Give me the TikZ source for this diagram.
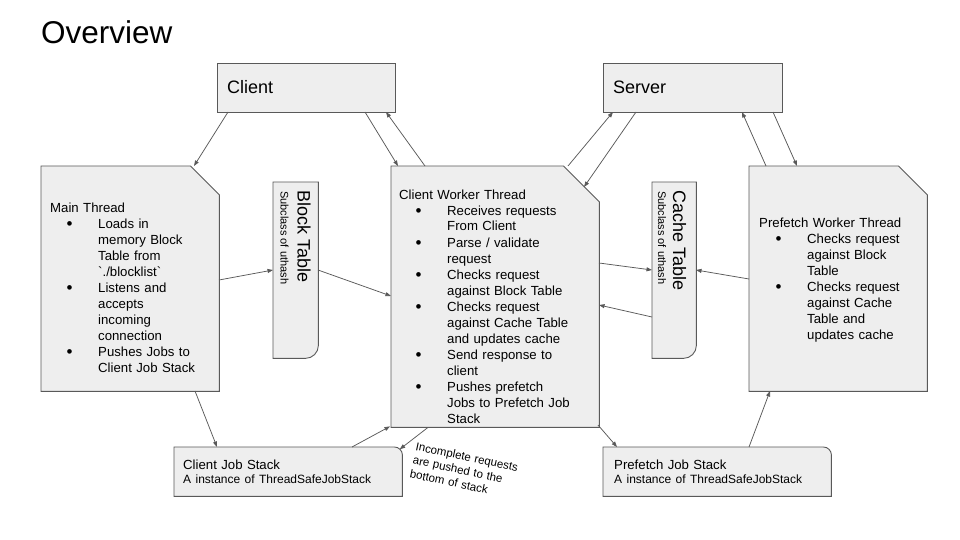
\documentclass[tikz,border=0pt]{standalone}
\usepackage{fontspec}
\setmainfont{Liberation Sans}[Ligatures=TeXOff]
\usetikzlibrary{calc,arrows.meta}
\definecolor{edgegray}{HTML}{595959}
\definecolor{boxfill}{HTML}{EEEEEE}
\newcommand\bdot{\makebox[48pt][l]{\hspace*{16.5pt}\raisebox{-1.6pt}{\fontsize{17}{16}\selectfont\textbullet}}}
\newcommand\bind{\hspace*{48pt}}
\begin{document}
\begin{tikzpicture}[x=1pt,y=1pt,
  frame/.style={rectangle,inner sep=0pt,anchor=north west,draw=none},
  shp/.style={draw=edgegray,fill=boxfill,line width=0.9pt,line join=miter},
  arr/.style={draw=edgegray,line width=0.75pt,-{Triangle[length=5.5pt,width=4pt]}},
  lbl/.style={anchor=base west,inner sep=0pt},
  body/.style={lbl,font=\fontsize{13.2}{16}\selectfont,align=left,text width=200pt},
  stacktext/.style={lbl,font=\fontsize{13.2}{14}\selectfont,align=left,text width=220pt}]
\useasboundingbox (0,0) rectangle (960,-540);

% frames
\node[frame,minimum width=178pt,minimum height=49pt] (client) at (217,-63) {};
\node[frame,minimum width=179pt,minimum height=49pt] (server) at (603,-63) {};
\node[frame,minimum width=178pt,minimum height=225pt] (mt) at (41,-166) {};
\node[frame,minimum width=45pt,minimum height=176pt] (bt) at (273,-182) {};
\node[frame,minimum width=208pt,minimum height=261pt] (cw) at (391,-166) {};
\node[frame,minimum width=44pt,minimum height=176pt] (ct) at (652,-182) {};
\node[frame,minimum width=178pt,minimum height=225pt] (pw) at (749,-166) {};
\node[frame,minimum width=228pt,minimum height=49pt] (cjs) at (174,-447) {};
\node[frame,minimum width=228pt,minimum height=49pt] (pjs) at (603,-447) {};

% shapes
\draw[shp] (client.north west) rectangle (client.south east);
\draw[shp] (server.north west) rectangle (server.south east);
\draw[shp] (mt.south west) -- (mt.north west) -- ($(mt.north east)+(-29,0)$) -- ($(mt.north east)+(0,-29)$) -- (mt.south east) -- cycle;
\draw[shp] (cw.south west) -- (cw.north west) -- ($(cw.north east)+(-36,0)$) -- ($(cw.north east)+(0,-36)$) -- (cw.south east) -- cycle;
\draw[shp] (pw.south west) -- (pw.north west) -- ($(pw.north east)+(-29,0)$) -- ($(pw.north east)+(0,-29)$) -- (pw.south east) -- cycle;
\draw[shp] (bt.north west) -- (bt.north east) -- ($(bt.south east)+(0,13)$) arc[start angle=0,end angle=-90,radius=13pt] -- (bt.south west) -- cycle;
\draw[shp] (ct.north west) -- (ct.north east) -- ($(ct.south east)+(0,13)$) arc[start angle=0,end angle=-90,radius=13pt] -- (ct.south west) -- cycle;
\draw[shp] (cjs.south west) -- (cjs.north west) -- ($(cjs.north east)+(-8,0)$) arc[start angle=90,end angle=0,radius=8pt] -- (cjs.south east) -- cycle;
\draw[shp] (pjs.south west) -- (pjs.north west) -- ($(pjs.north east)+(-8,0)$) arc[start angle=90,end angle=0,radius=8pt] -- (pjs.south east) -- cycle;

% texts
\node[lbl,font=\fontsize{31.5}{36}\selectfont] (title) at (41,-44) {Overview};
\node[lbl,font=\fontsize{18}{20}\selectfont] (clientlbl) at (227,-94) {Client};
\node[lbl,font=\fontsize{18}{20}\selectfont] (serverlbl) at (613,-94) {Server};

\node[body] (mttext) at (50,-212) {Main Thread\\
\bdot Loads in\\
\bind memory Block\\
\bind Table from\\
\bind `./blocklist`\\
\bdot Listens and\\
\bind accepts\\
\bind incoming\\
\bind connection\\
\bdot Pushes Jobs to\\
\bind Client Job Stack};

\node[body] (cwtext) at (399,-199) {Client Worker Thread\\
\bdot Receives requests\\
\bind From Client\\
\bdot Parse / validate\\
\bind request\\
\bdot Checks request\\
\bind against Block Table\\
\bdot Checks request\\
\bind against Cache Table\\
\bind and updates cache\\
\bdot Send response to\\
\bind client\\
\bdot Pushes prefetch\\
\bind Jobs to Prefetch Job\\
\bind Stack};

\node[body] (pwtext) at (759,-227) {Prefetch Worker Thread\\
\bdot Checks request\\
\bind against Block\\
\bind Table\\
\bdot Checks request\\
\bind against Cache\\
\bind Table and\\
\bind updates cache};

\node[lbl,rotate=-90,font=\fontsize{18}{20}\selectfont] (bttitle) at (297.5,-190) {Block Table};
\node[lbl,rotate=-90,font=\fontsize{11}{13}\selectfont] (btsub) at (280.5,-191) {Subclass of uthash};
\node[lbl,rotate=-90,font=\fontsize{18}{20}\selectfont] (cttitle) at (673,-190) {Cache Table};
\node[lbl,rotate=-90,font=\fontsize{11}{13}\selectfont] (ctsub) at (658,-191) {Subclass of uthash};

\node[stacktext] (cjstext) at (183,-469) {Client Job Stack\\{\fontsize{12}{14}\selectfont A instance of ThreadSafeJobStack}};
\node[stacktext] (pjstext) at (614,-469) {Prefetch Job Stack\\{\fontsize{12}{14}\selectfont A instance of ThreadSafeJobStack}};

\node[lbl,rotate=-12,font=\fontsize{11.5}{14}\selectfont,align=left,text width=120pt] (note) at (415,-450) {Incomplete requests\\are pushed to the\\bottom of stack};

% connectors
\draw[arr] ($(client.north west)+(11,-49)$) -- ($(mt.north west)+(153,0)$);
\draw[arr] ($(client.north west)+(148,-49)$) -- ($(cw.north west)+(7,0)$);
\draw[arr] ($(cw.north west)+(34,0)$) -- ($(client.north west)+(169,-49)$);
\draw[arr] ($(cw.north west)+(177,0)$) -- ($(server.north west)+(10,-49)$);
\draw[arr] ($(server.north west)+(33,-49)$) -- ($(cw.north west)+(193,-21)$);
\draw[arr] ($(pw.north west)+(17,0)$) -- ($(server.north west)+(139,-49)$);
\draw[arr] ($(server.north west)+(170,-49)$) -- ($(pw.north west)+(48,0)$);
\draw[arr] ($(mt.north west)+(178,-114)$) -- ($(bt.north west)+(0,-88)$);
\draw[arr] ($(bt.north west)+(45,-88)$) -- ($(cw.north west)+(0,-130)$);
\draw[arr] ($(cw.north west)+(208,-97)$) -- ($(ct.north west)+(0,-88)$);
\draw[arr] ($(ct.north west)+(0,-135)$) -- ($(cw.north west)+(208,-139)$);
\draw[arr] ($(pw.north west)+(0,-113)$) -- ($(ct.north west)+(44,-88)$);
\draw[arr] ($(mt.north west)+(154,-225)$) -- ($(cjs.north west)+(43,0)$);
\draw[arr] ($(cjs.north west)+(178,0)$) -- ($(cw.south west)+(-1,1)$);
\draw[arr] ($(cw.south west)+(37,0)$) -- ($(cjs.north west)+(225.7,-2.3)$);
\draw[arr] ($(cw.north west)+(207,-259)$) -- ($(pjs.north west)+(14,0)$);
\draw[arr] ($(pjs.north west)+(146,0)$) -- ($(pw.north west)+(21,-225)$);
\end{tikzpicture}
\end{document}
